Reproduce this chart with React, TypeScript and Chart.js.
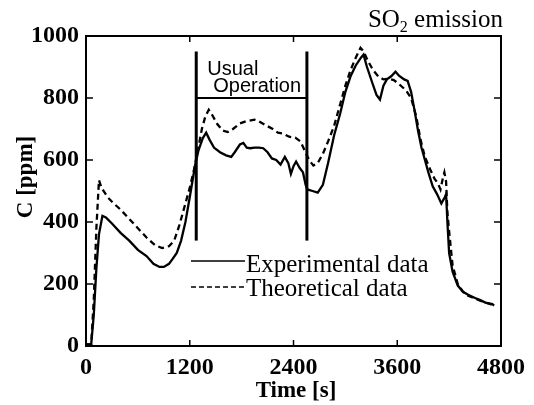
import React, { useEffect, useRef } from "react";
import { Chart, registerables } from "chart.js";

Chart.register(...registerables);

// Experimental data (solid)
const expTime = [0, 60, 90, 120, 150, 190, 230, 300, 400, 500, 600, 700, 780, 850, 900, 960, 1000, 1050, 1100, 1150, 1200, 1260, 1300, 1350, 1390, 1430, 1480, 1550, 1620, 1680, 1720, 1780, 1820, 1860, 1900, 1950, 2000, 2050, 2100, 2150, 2200, 2250, 2300, 2340, 2370, 2400, 2430, 2470, 2510, 2540, 2560, 2620, 2680, 2740, 2800, 2870, 2940, 3000, 3060, 3120, 3180, 3210, 3250, 3310, 3360, 3400, 3440, 3480, 3530, 3580, 3620, 3680, 3720, 3760, 3800, 3840, 3880, 3920, 3960, 4010, 4060, 4110, 4150, 4165, 4180, 4200, 4240, 4300, 4360, 4420, 4500, 4560, 4620, 4700, 4720];
const expConc = [5, 5, 100, 250, 360, 420, 415, 395, 365, 340, 310, 290, 265, 255, 255, 265, 280, 300, 340, 400, 480, 580, 630, 670, 688, 665, 640, 625, 615, 610, 625, 650, 655, 640, 638, 640, 640, 638, 625, 605, 600, 585, 610, 590, 555, 580, 595, 575, 560, 520, 505, 500, 495, 520, 590, 680, 750, 820, 870, 905, 930, 940, 900, 850, 810, 795, 840, 860, 870, 885, 872, 860, 855, 820, 760, 695, 640, 600, 560, 515, 490, 460, 480, 490, 400, 300, 240, 195, 175, 165, 155, 148, 140, 135, 130];

// Theoretical data (dashed)
const theoTime = [0, 60, 90, 120, 150, 180, 250, 320, 400, 500, 600, 700, 800, 880, 960, 1020, 1080, 1130, 1200, 1250, 1300, 1340, 1380, 1420, 1460, 1520, 1580, 1640, 1700, 1780, 1850, 1950, 2000, 2080, 2160, 2220, 2280, 2350, 2420, 2480, 2530, 2580, 2630, 2680, 2740, 2800, 2870, 2940, 3000, 3060, 3120, 3175, 3210, 3260, 3320, 3380, 3440, 3500, 3560, 3620, 3700, 3760, 3820, 3870, 3920, 3980, 4030, 4070, 4100, 4130, 4145, 4165, 4180, 4200, 4240, 4300, 4360, 4420, 4500, 4560, 4620, 4700, 4720];
const theoConc = [5, 5, 150, 380, 535, 510, 480, 460, 440, 410, 380, 350, 325, 316, 322, 340, 390, 440, 510, 570, 640, 700, 740, 762, 745, 715, 695, 690, 700, 718, 725, 730, 725, 712, 700, 688, 685, 675, 672, 660, 630, 600, 582, 590, 620, 660, 710, 780, 840, 890, 930, 962, 950, 920, 890, 870, 860, 862, 858, 845, 825, 800, 740, 665, 610, 570, 540, 525, 505, 545, 560, 530, 430, 370, 260, 200, 175, 162, 153, 146, 140, 133, 128];

const xTicks = [0, 1200, 2400, 3600, 4800];
const yTicks = [0, 200, 400, 600, 800, 1000];

// "Usual Operation" annotation (data units)
const usualStart = 1275;
const usualEnd = 2555;
const usualTop = 950;
const usualBottom = 340;
const usualBar = 800;

const seriesNames = ["Experimental data", "Theoretical data"];
const usualLabel = ["Usual", "Operation"];

const SERIF = "'Liberation Serif', 'Times New Roman', serif";
const SANS = "'Liberation Sans', Arial, sans-serif";

const decorPlugin = {
  id: "decor",
  afterDatasetsDraw(chart: any) {
    const { ctx, chartArea: a, scales } = chart;
    const x = scales.x;
    const y = scales.y;
    ctx.save();
    ctx.strokeStyle = "#000";
    ctx.fillStyle = "#000";
    // frame
    ctx.lineWidth = 2;
    ctx.strokeRect(a.left, a.top, a.right - a.left, a.bottom - a.top);
    // inner ticks
    ctx.lineWidth = 1.5;
    const seg = (x1: number, y1: number, x2: number, y2: number) => {
      ctx.beginPath();
      ctx.moveTo(x1, y1);
      ctx.lineTo(x2, y2);
      ctx.stroke();
    };
    for (const v of xTicks) {
      const px = x.getPixelForValue(v);
      seg(px, a.bottom, px, a.bottom - 6);
      seg(px, a.top, px, a.top + 6);
    }
    for (const v of yTicks) {
      const py = y.getPixelForValue(v);
      seg(a.left, py, a.left + 7, py);
      seg(a.right, py, a.right - 7, py);
    }

    // Usual Operation text
    const sx = x.getPixelForValue(usualStart);
    ctx.font = `20px ${SANS}`;
    ctx.textAlign = "left";
    ctx.textBaseline = "alphabetic";
    ctx.fillText(usualLabel[0], sx + 11, 75);
    ctx.fillText(usualLabel[1], sx + 17, 92);

    // Title
    ctx.font = `25px ${SERIF}`;
    const rightEdge = 503;
    const wEm = ctx.measureText(" emission").width;
    const wSO = ctx.measureText("SO").width;
    ctx.font = `16px ${SERIF}`;
    const w2 = ctx.measureText("2").width;
    const startX = rightEdge - wEm - w2 - wSO;
    ctx.font = `25px ${SERIF}`;
    ctx.fillText("SO", startX, 27);
    ctx.fillText(" emission", startX + wSO + w2, 27);
    ctx.font = `16px ${SERIF}`;
    ctx.fillText("2", startX + wSO, 32);

    // Legend
    ctx.lineWidth = 1.5;
    seg(191, 261, 245, 261);
    ctx.setLineDash([5, 3]);
    seg(191, 287, 245, 287);
    ctx.setLineDash([]);
    ctx.font = `25px ${SERIF}`;
    ctx.fillText(seriesNames[0], 246, 272);
    ctx.fillText(seriesNames[1], 246, 296);

    // Axis titles
    ctx.font = `bold 23px ${SERIF}`;
    ctx.textAlign = "center";
    ctx.fillText("Time [s]", 296, 397);
    ctx.save();
    ctx.translate(32, 177);
    ctx.rotate(-Math.PI / 2);
    ctx.fillText("C [ppm]", 0, 0);
    ctx.restore();

    ctx.restore();
  },
};

export default function App() {
  const ref = useRef<HTMLCanvasElement | null>(null);
  useEffect(() => {
    if (!ref.current) return;
    const toPts = (xs: number[], ys: number[]) => xs.map((t, i) => ({ x: t, y: ys[i] }));
    const chart = new Chart(ref.current, {
      type: "line",
      data: {
        datasets: [
          {
            label: seriesNames[1],
            data: toPts(theoTime, theoConc),
            borderColor: "#000",
            borderWidth: 2.3,
            borderDash: [6, 4],
            pointRadius: 0,
            tension: 0,
            fill: false,
          },
          {
            label: seriesNames[0],
            data: toPts(expTime, expConc),
            borderColor: "#000",
            borderWidth: 2.3,
            pointRadius: 0,
            tension: 0,
            fill: false,
          },
          {
            label: "start",
            data: [
              { x: usualStart, y: usualBottom },
              { x: usualStart, y: usualTop },
            ],
            borderColor: "#000",
            borderWidth: 3,
            pointRadius: 0,
          },
          {
            label: "end",
            data: [
              { x: usualEnd, y: usualBottom },
              { x: usualEnd, y: usualTop },
            ],
            borderColor: "#000",
            borderWidth: 3,
            pointRadius: 0,
          },
          {
            label: "bar",
            data: [
              { x: usualStart, y: usualBar },
              { x: usualEnd, y: usualBar },
            ],
            borderColor: "#000",
            borderWidth: 2,
            pointRadius: 0,
          },
        ],
      },
      options: {
        responsive: false,
        animation: false,
        layout: { padding: { left: 0, top: 36, right: 33, bottom: 0 } },
        plugins: { legend: { display: false }, tooltip: { enabled: false }, title: { display: false } },
        scales: {
          x: {
            type: "linear",
            min: 0,
            max: 4800,
            afterFit: (s: any) => {
              s.height = 59;
            },
            grid: { display: false, drawTicks: false },
            border: { display: false },
            ticks: {
              stepSize: 1200,
              padding: 7,
              color: "#000",
              maxRotation: 0,
              callback: (v: any) => String(v),
              font: { family: SERIF, size: 24, weight: "bold" },
            },
          },
          y: {
            min: 0,
            max: 1000,
            afterFit: (s: any) => {
              s.width = 86;
            },
            grid: { display: false, drawTicks: false },
            border: { display: false },
            ticks: {
              stepSize: 200,
              padding: 7,
              color: "#000",
              callback: (v: any) => String(v),
              font: { family: SERIF, size: 24, weight: "bold" },
            },
          },
        },
      },
      plugins: [decorPlugin],
    });
    return () => chart.destroy();
  }, []);
  return (
    <div style={{ position: "fixed", left: 0, top: 0, width: 534, height: 405, background: "#fff" }}>
      <canvas ref={ref} width={534} height={405} style={{ display: "block" }} />
    </div>
  );
}
